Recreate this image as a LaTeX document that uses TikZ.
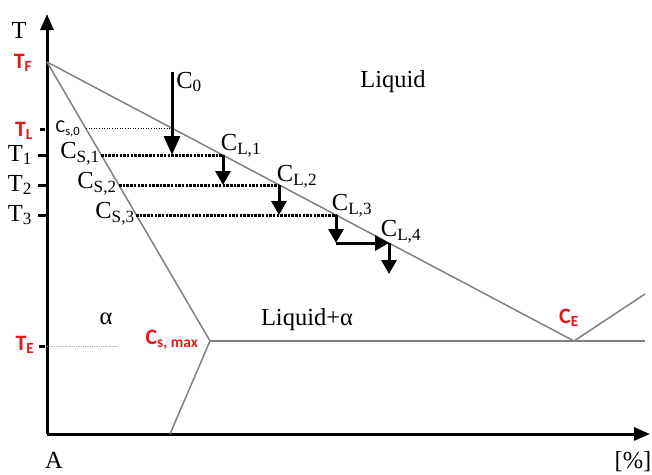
\documentclass[tikz,border=0pt]{standalone}
\usepackage{fontspec}
\setmainfont{Liberation Serif}
\newfontfamily\calibri{Carlito}
\usetikzlibrary{arrows.meta}
\definecolor{labelred}{RGB}{230,25,25}
\definecolor{phasegray}{RGB}{128,128,128}
\definecolor{guideblue}{RGB}{160,180,200}

\begin{document}
\begin{tikzpicture}[x=1pt, y=-1pt, line join=miter,
        axis/.style={line width=3pt, -{Triangle[length=16pt,width=13pt]}},
        phaseline/.style={phasegray, line width=1.5pt},
        tieline/.style={black, line width=3pt, dash pattern=on 2.5pt off 1.2pt},
        steparrow/.style={black, line width=3pt, -{Triangle[length=14pt,width=15pt]}},
        tick/.style={line width=3pt},
        biglabel/.style={inner sep=0pt, font=\fontsize{24.5}{26}\selectfont},
        redlabel/.style={inner sep=0pt, text=labelred, font=\calibri\bfseries\fontsize{22}{23}\selectfont}]
        \useasboundingbox (0,0) rectangle (652,474);
        % Points of the diagram
        \coordinate (O) at (47,434);
        \coordinate (yTip) at (47,14);
        \coordinate (xTip) at (650,434);
        \coordinate (TF) at (47,62);
        \coordinate (CE) at (574,341);
        \coordinate (Csm) at (210,341);
        \coordinate (rightEnd) at (645,294);
        \coordinate (eutEnd) at (645,341);
        \coordinate (solvEnd) at (170,434);
        \coordinate (CS0) at (86,128);
        \coordinate (CL0) at (172,128);
        \coordinate (C0top) at (172,72);
        \coordinate (C0bot) at (172,155);
        \coordinate (CS1) at (101,155);
        \coordinate (CL1) at (223,155);
        \coordinate (CS2) at (119,185);
        \coordinate (CL2) at (279,185);
        \coordinate (CS3) at (136,215);
        \coordinate (CL3) at (336,215);
        \coordinate (CL4) at (389,243);
        \coordinate (CL5) at (389,274);
        % Axes
        \draw[axis] (O) -- (yTip);
        \draw[axis] (O) -- (xTip);
        % Phase lines
        \draw[phaseline] (TF) -- (CE) -- (rightEnd);
        \draw[phaseline] (TF) -- (Csm) -- (solvEnd);
        \draw[phaseline] (Csm) -- (eutEnd);
        % Guide lines
        \draw[black, line width=0.6pt, dotted] (CS0) -- (CL0);
        \draw[guideblue, line width=0.8pt, densely dotted] (47,346) -- (118,346);
        \draw[tieline] (CS1) -- (CL1);
        \draw[tieline] (CS2) -- (CL2);
        \draw[tieline] (CS3) -- (CL3);
        % Ticks
        \foreach \y in {155,185,215} {
          \draw[tick] (38,\y) -- (47,\y);
        }
        \draw[tick] (40,129) -- (45,129);
        \draw[tick] (39,346) -- (45,346);
        % Arrows
        \draw[steparrow, -{Triangle[length=19pt,width=16pt]}] (C0top) -- (C0bot);
        \draw[steparrow] (CL1) -- (CL1 |- CL2);
        \draw[steparrow] (CL2) -- (CL2 |- CL3);
        \draw[steparrow] (CL3) -- (CL3 |- CL4);
        \draw[steparrow] (CL3 |- CL4) -- (CL4);
        \draw[steparrow] (CL4) -- (CL5);
        % Labels
        \node[biglabel] (T) at (19,30) {T};
        \node[redlabel] (TFlab) at (23,63) {T\textsubscript{F}};
        \node[redlabel] (TLlab) at (24,131) {T\textsubscript{L}};
        \node[redlabel] (TElab) at (25,345) {T\textsubscript{E}};
        \foreach \i/\y in {1/155,2/185,3/215} {
          \node[biglabel] (T\i) at (20,\y) {T\textsubscript{\i}};
        }
        \node[inner sep=0pt, font=\calibri\fontsize{18}{19}\selectfont] (Cs0lab) at (68,129) {C\textsubscript{s,0}};
        \node[biglabel] (C0lab) at (189,82) {C\textsubscript{0}};
        \node[biglabel] (CS1lab) at (80,154) {C\textsubscript{S,1}};
        \node[biglabel] (CS2lab) at (97,184) {C\textsubscript{S,2}};
        \node[biglabel] (CS3lab) at (115,214) {C\textsubscript{S,3}};
        \node[biglabel] (CL1lab) at (241,146) {C\textsubscript{L,1}};
        \node[biglabel] (CL2lab) at (297,177) {C\textsubscript{L,2}};
        \node[biglabel] (CL3lab) at (352,206) {C\textsubscript{L,3}};
        \node[biglabel] (CL4lab) at (401,232) {C\textsubscript{L,4}};
        \node[biglabel] (liquid) at (393,82) {Liquid};
        \node[biglabel] (liquidalpha) at (307,320) {Liquid+α};
        \node[biglabel] (alpha) at (106,319) {α};
        \node[redlabel] (Csmlab) at (172,340) {C\textsubscript{s, max}};
        \node[redlabel] (CElab) at (569,318) {C\textsubscript{E}};
        \node[biglabel] (Alab) at (54,460) {A};
        \node[biglabel] (pct) at (633,462) {[\%]};
\end{tikzpicture}
\end{document}
